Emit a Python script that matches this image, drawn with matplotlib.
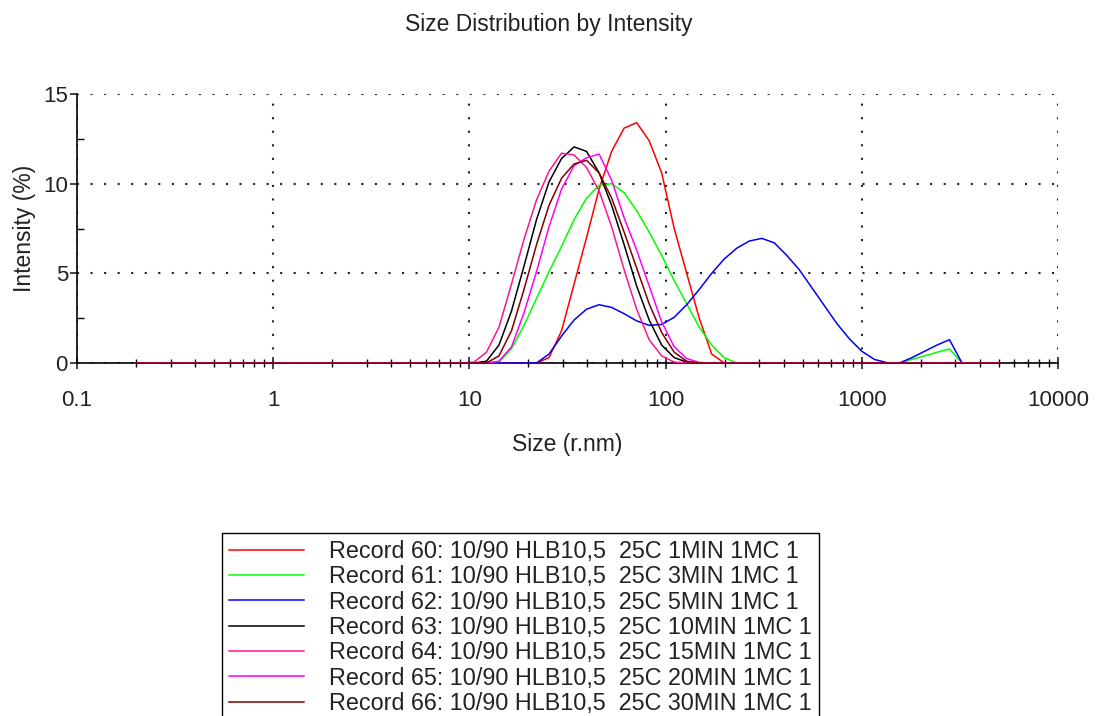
import matplotlib
matplotlib.use('Agg')
import matplotlib.pyplot as plt
from matplotlib.ticker import FixedLocator, FixedFormatter, LogLocator, NullFormatter

plt.rcParams['font.family'] = ['Liberation Sans', 'DejaVu Sans']

# size bins (radius, nm)
sizes = [0.2, 0.2316, 0.2683, 0.3107, 0.3599, 0.4168, 0.4828, 0.5592, 0.6477, 0.7501,
         0.8688, 1.006, 1.166, 1.350, 1.564, 1.811, 2.098, 2.430, 2.814, 3.259,
         3.775, 4.372, 5.064, 5.865, 6.793, 7.868, 9.113, 10.55, 12.22, 14.16,
         16.40, 18.99, 22.00, 25.48, 29.51, 34.18, 39.58, 45.85, 53.10, 61.50,
         71.23, 82.50, 95.55, 110.7, 128.2, 148.5, 171.9, 199.1, 230.6, 267.1,
         309.4, 358.3, 415.0, 480.7, 556.7, 644.8, 746.8, 865.0, 1002, 1160,
         1344, 1557, 1803, 2088, 2419, 2801, 3245, 3758, 4353, 5041]

# intensity (%) per bin
rec60 = [0, 0, 0, 0, 0, 0, 0, 0, 0, 0, 0, 0, 0, 0, 0, 0, 0, 0, 0, 0,
         0, 0, 0, 0, 0, 0, 0, 0, 0, 0, 0, 0, 0, 0.3, 1.8, 4.4, 7.0, 9.7, 11.8, 13.1,
         13.4, 12.4, 10.6, 7.5, 5.0, 2.5, 0.5, 0, 0, 0, 0, 0, 0, 0, 0, 0, 0, 0, 0, 0,
         0, 0, 0, 0, 0, 0, 0, 0, 0, 0]
rec61 = [0, 0, 0, 0, 0, 0, 0, 0, 0, 0, 0, 0, 0, 0, 0, 0, 0, 0, 0, 0,
         0, 0, 0, 0, 0, 0, 0, 0, 0, 0.05, 0.8, 2.1, 3.6, 5.1, 6.5, 8.0, 9.2, 9.9, 10.0, 9.5,
         8.5, 7.3, 6.0, 4.6, 3.3, 2.0, 1.0, 0.3, 0, 0, 0, 0, 0, 0, 0, 0, 0, 0, 0, 0,
         0, 0, 0.2, 0.4, 0.6, 0.78, 0, 0, 0, 0]
rec62 = [0, 0, 0, 0, 0, 0, 0, 0, 0, 0, 0, 0, 0, 0, 0, 0, 0, 0, 0, 0,
         0, 0, 0, 0, 0, 0, 0, 0, 0, 0, 0, 0, 0, 0.5, 1.5, 2.4, 3.0, 3.25, 3.1, 2.75,
         2.35, 2.1, 2.15, 2.55, 3.25, 4.1, 5.0, 5.8, 6.4, 6.8, 6.95, 6.7, 6.0, 5.2, 4.2, 3.2, 2.2, 1.35, 0.65, 0.2,
         0.02, 0, 0.3, 0.65, 1.0, 1.3, 0, 0, 0, 0]
rec63 = [0, 0, 0, 0, 0, 0, 0, 0, 0, 0, 0, 0, 0, 0, 0, 0, 0, 0, 0, 0,
         0, 0, 0, 0, 0, 0, 0, 0, 0.1, 1.0, 2.9, 5.4, 8.0, 10.1, 11.4, 12.05, 11.8, 10.6, 8.8, 6.6,
         4.3, 2.4, 1.0, 0.3, 0.05, 0, 0, 0, 0, 0, 0, 0, 0, 0, 0, 0, 0, 0, 0, 0,
         0, 0, 0, 0, 0, 0, 0, 0, 0, 0]
rec64 = [0, 0, 0, 0, 0, 0, 0, 0, 0, 0, 0, 0, 0, 0, 0, 0, 0, 0, 0, 0,
         0, 0, 0, 0, 0, 0, 0, 0.05, 0.6, 2.0, 4.4, 6.9, 9.1, 10.7, 11.7, 11.6, 10.9, 9.6, 7.6, 5.2,
         3.0, 1.3, 0.4, 0.05, 0, 0, 0, 0, 0, 0, 0, 0, 0, 0, 0, 0, 0, 0, 0, 0,
         0, 0, 0, 0, 0, 0, 0, 0, 0, 0]
rec65 = [0, 0, 0, 0, 0, 0, 0, 0, 0, 0, 0, 0, 0, 0, 0, 0, 0, 0, 0, 0,
         0, 0, 0, 0, 0, 0, 0, 0, 0, 0.1, 0.9, 2.8, 5.1, 7.6, 9.7, 11.0, 11.45, 11.65, 10.2, 8.1,
         6.3, 4.3, 2.3, 0.9, 0.25, 0.03, 0, 0, 0, 0, 0, 0, 0, 0, 0, 0, 0, 0, 0, 0,
         0, 0, 0, 0, 0, 0, 0, 0, 0, 0]
rec66 = [0, 0, 0, 0, 0, 0, 0, 0, 0, 0, 0, 0, 0, 0, 0, 0, 0, 0, 0, 0,
         0, 0, 0, 0, 0, 0, 0, 0, 0, 0.4, 1.8, 4.1, 6.6, 8.8, 10.3, 11.1, 11.3, 10.6, 9.2, 7.3,
         5.3, 3.3, 1.7, 0.6, 0.1, 0, 0, 0, 0, 0, 0, 0, 0, 0, 0, 0, 0, 0, 0, 0,
         0, 0, 0, 0, 0, 0, 0, 0, 0, 0]

series = [rec60, rec61, rec62, rec63, rec64, rec65, rec66]
labels = ['Record 60: 10/90 HLB10,5  25C 1MIN 1MC 1',
          'Record 61: 10/90 HLB10,5  25C 3MIN 1MC 1',
          'Record 62: 10/90 HLB10,5  25C 5MIN 1MC 1',
          'Record 63: 10/90 HLB10,5  25C 10MIN 1MC 1',
          'Record 64: 10/90 HLB10,5  25C 15MIN 1MC 1',
          'Record 65: 10/90 HLB10,5  25C 20MIN 1MC 1',
          'Record 66: 10/90 HLB10,5  25C 30MIN 1MC 1']
colors = ['#ff0000', '#00ff00', '#0000ff', '#000000', '#ff1493', '#ff00ff', '#800000']

xticks = [0.1, 1, 10, 100, 1000, 10000]
xticklabels = ['0.1', '1', '10', '100', '1000', '10000']
yticks = [0, 5, 10, 15]

fig = plt.figure(figsize=(10.98, 7.16), dpi=100)
ax = fig.add_axes([0.0701, 0.4930, 0.8934, 0.3757])

for vals, lab, col in zip(series, labels, colors):
    ax.plot(sizes, vals, color=col, lw=1.1, label=lab, zorder=3)

ax.set_xscale('log')
ax.set_xlim(0.1, 10000)
ax.set_ylim(0, 15)

ax.xaxis.set_major_locator(FixedLocator(xticks))
ax.xaxis.set_major_formatter(FixedFormatter(xticklabels))
ax.xaxis.set_minor_locator(LogLocator(base=10, subs=range(2, 10)))
ax.xaxis.set_minor_formatter(NullFormatter())
ax.set_yticks(yticks)
ax.yaxis.set_minor_locator(FixedLocator([2.5, 7.5, 12.5]))

# dotted grid
ax.grid(True, which='major', color='#222222', linestyle=(0, (1, 5.5)), linewidth=1.5)

for side in ['top', 'right']:
    ax.spines[side].set_visible(False)
for side in ['left', 'bottom']:
    ax.spines[side].set_linewidth(1.2)

ax.tick_params(axis='x', which='major', direction='inout', length=9, width=1.2,
               labelsize=16, pad=15, colors='#222222')
ax.tick_params(axis='x', which='minor', direction='inout', length=6, width=1.0)
ax.tick_params(axis='y', which='major', direction='out', length=5, width=1.2,
               labelsize=16, pad=1.5, colors='#222222')
ax.tick_params(axis='y', which='minor', direction='in', length=5, width=1.0)

ax.set_xlabel('Size (r.nm)', fontsize=16.5, color='#222222', labelpad=16)
ax.set_ylabel('Intensity (%)', fontsize=16.5, color='#222222', labelpad=5)
fig.suptitle('Size Distribution by Intensity', fontsize=16.5, color='#222222',
             y=0.966, va='center')

leg = fig.legend(loc='upper left', bbox_to_anchor=(0.2022, 0.2556), frameon=True,
                 fancybox=False, edgecolor='black', framealpha=1, fontsize=16.8,
                 handlelength=3.2, handletextpad=1.1, labelspacing=0.1, borderpad=0.3,
                 borderaxespad=0)
leg.get_frame().set_linewidth(1.0)
for t in leg.get_texts():
    t.set_color('#222222')

fig.savefig('out.png', dpi=100)
